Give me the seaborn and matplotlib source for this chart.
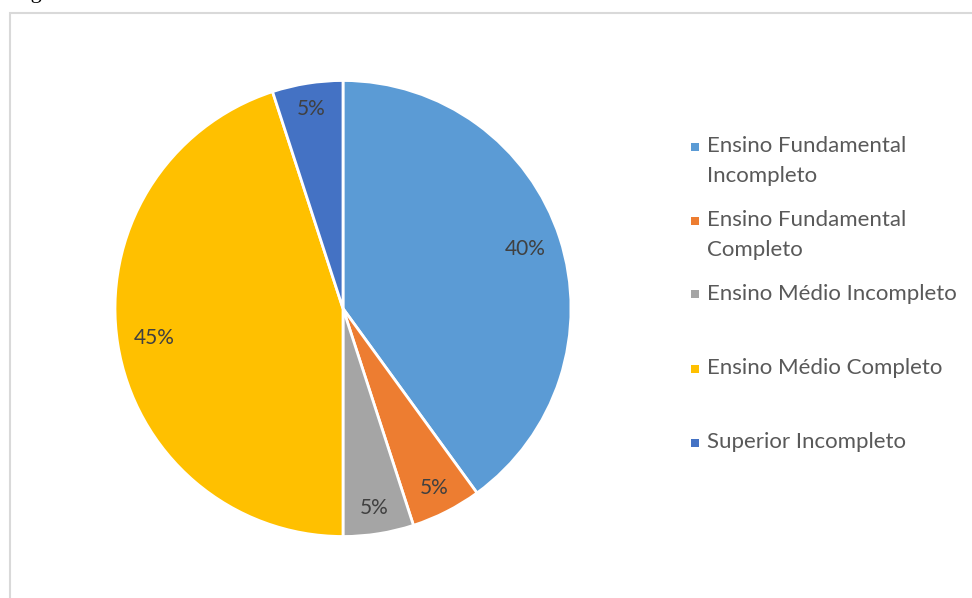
import matplotlib
matplotlib.use("Agg")
import matplotlib.pyplot as plt
from matplotlib.patches import Rectangle
import numpy as np
import seaborn as sns

# Escolaridade dos participantes
categories = [
    "Ensino Fundamental Incompleto",
    "Ensino Fundamental Completo",
    "Ensino Médio Incompleto",
    "Ensino Médio Completo",
    "Superior Incompleto",
]
legend_lines = [
    ["Ensino Fundamental", "Incompleto"],
    ["Ensino Fundamental", "Completo"],
    ["Ensino Médio Incompleto"],
    ["Ensino Médio Completo"],
    ["Superior Incompleto"],
]
percentages = [40, 5, 5, 45, 5]
colors = ["#5B9BD5", "#ED7D31", "#A5A5A5", "#FFC000", "#4472C4"]

sns.set_theme(style="white")
plt.rcParams["font.family"] = ["Lato", "DejaVu Sans"]

W, H = 972, 598
fig = plt.figure(figsize=(W / 100, H / 100), dpi=100)
fig.patch.set_facecolor("white")

# chart frame
fig.add_artist(Rectangle((10 / W, -0.05), 1.2, (H - 12.5) / H + 0.05,
                         transform=fig.transFigure, fill=False,
                         edgecolor="#D9D9D9", linewidth=1.5))

# caption line above the frame (only the descender is visible)
fig.text(12 / W, 1.0 + 2 / H, "Figura", family="Liberation Serif",
         fontsize=16, color="black", va="baseline", ha="left")

cx, cy, r = 343, 308.5, 228
ax = fig.add_axes([(cx - r) / W, (H - cy - r) / H, 2 * r / W, 2 * r / H])
wedges, texts, autotexts = ax.pie(
    percentages, colors=colors, startangle=90, counterclock=False,
    autopct=lambda p: f"{p:.0f}%", pctdistance=0.86, radius=1,
    wedgeprops=dict(edgecolor="white", linewidth=2),
    textprops=dict(color="#404040", fontsize=15),
)
# place each percentage a little further out on the narrow slices
for w, t, p in zip(wedges, autotexts, percentages):
    ang = np.deg2rad((w.theta1 + w.theta2) / 2)
    d = 0.84 if p >= 20 else 0.885
    t.set_position((d * np.cos(ang), d * np.sin(ang)))
ax.set_xlim(-1, 1)
ax.set_ylim(-1, 1)
ax.set_axis_off()

# legend
y0, step, line_gap = 146, 74, 30
for i, (lines, col) in enumerate(zip(legend_lines, colors)):
    y = y0 + i * step
    fig.add_artist(Rectangle((691 / W, (H - y - 4.5) / H), 8 / W, 8 / H,
                             transform=fig.transFigure, facecolor=col,
                             edgecolor="none"))
    for k, line in enumerate(lines):
        fig.text(707 / W, (H - y - k * line_gap) / H, line, fontsize=16,
                 color="#595959", va="center", ha="left")

fig.savefig("out.png", dpi=100)
